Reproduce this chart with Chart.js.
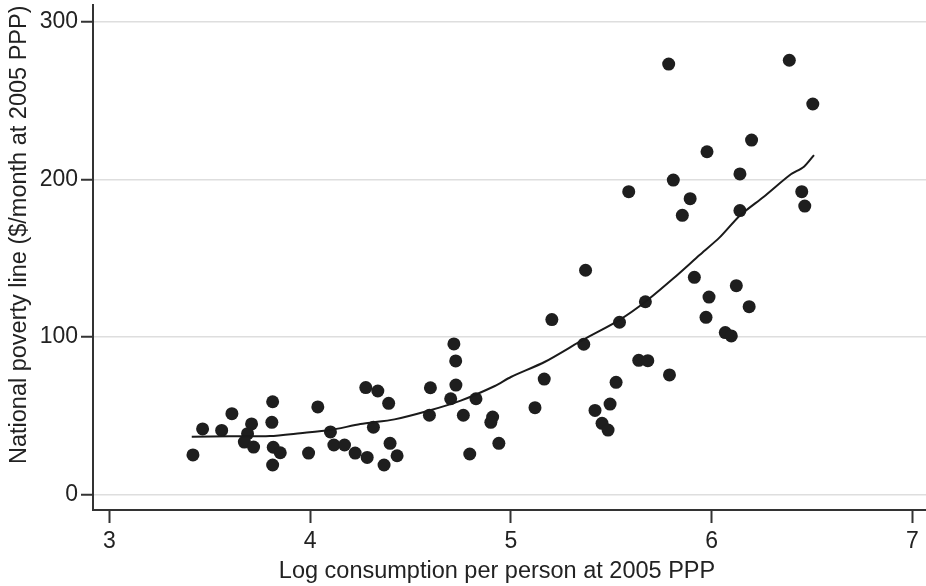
<!DOCTYPE html>
<html><head><meta charset="utf-8">
<script src="https://cdn.jsdelivr.net/npm/chart.js@4.4.0/dist/chart.umd.min.js"></script>
<style>html,body{margin:0;padding:0;background:#fff}#wrap{width:926px;height:586px}</style>
</head><body><div id="wrap"><canvas id="c" width="926" height="586"></canvas></div>
<script>
// Log consumption per person (x) and national poverty line (y) for each country
const consumptionX = [3.416,3.464,3.559,3.610,3.708,3.688,3.672,3.718,3.813,3.809,3.816,3.851,3.813,3.992,4.038,4.101,4.118,4.171,4.224,4.277,4.284,4.315,4.337,4.391,4.368,4.398,4.433,4.599,4.594,4.716,4.725,4.726,4.700,4.763,4.826,4.795,4.909,4.900,4.940,5.120,5.166,5.204,5.372,5.363,5.419,5.454,5.484,5.494,5.524,5.541,5.587,5.637,5.682,5.670,5.790,5.786,5.809,5.854,5.893,5.914,5.972,5.987,5.977,6.068,6.098,6.123,6.141,6.141,6.187,6.199,6.387,6.449,6.464,6.504];
const povertyLineY = [25.0,41.5,40.6,51.2,44.7,38.5,33.2,30.0,58.8,45.7,29.9,26.4,18.6,26.2,55.5,39.6,31.3,31.3,26.2,67.8,23.4,42.6,65.6,57.8,18.6,32.4,24.5,67.7,50.2,95.5,84.7,69.4,60.7,50.2,60.7,25.6,49.1,45.7,32.4,55.0,73.2,111.0,142.3,95.3,53.3,45.1,40.8,57.3,71.1,109.3,192.2,85.1,84.9,122.3,75.8,273.3,199.6,177.2,187.8,137.8,112.4,125.3,217.6,102.7,100.6,132.5,203.5,180.2,119.2,225.0,275.7,192.2,183.1,247.9];
// Lowess fit
const lowessX = [3.41,3.60,3.80,3.95,4.10,4.25,4.42,4.58,4.75,4.92,5.00,5.17,5.36,5.54,5.67,5.81,5.94,6.04,6.14,6.26,6.39,6.46,6.51];
const lowessY = [36.6,36.8,37.0,38.8,40.8,44.6,47.6,52.7,59.5,68.8,74.5,84.2,98.2,110.7,122.3,137.2,152.0,163.2,177.0,189.0,202.8,208.1,215.5];
const xTickValues = [3,4,5,6,7];
const yTickValues = [0,100,200,300];
const xTitle = "Log consumption per person at 2005 PPP";
const yTitle = "National poverty line ($/month at 2005 PPP)";

const FONT = "'Liberation Sans', Arial, Helvetica, sans-serif";
const DARK = '#222222';

const scatterData = consumptionX.map((x,i)=>({x:x, y:povertyLineY[i]}));
const lineData = lowessX.map((x,i)=>({x:x, y:lowessY[i]}));

const titlePlugin = {
  id:'axisTitles',
  afterDraw(chart){
    const ctx = chart.ctx;
    const area = chart.chartArea;
    ctx.save();
    ctx.fillStyle = DARK;
    ctx.textAlign = 'center';
    ctx.textBaseline = 'alphabetic';
    ctx.font = "23.5px " + FONT;
    ctx.fillText(xTitle, area.left + (area.right-area.left)*0.485, 578);
    ctx.translate(26, area.top + (area.bottom-area.top)*0.455);
    ctx.rotate(-Math.PI/2);
    ctx.font = "23.5px " + FONT;
    ctx.fillText(yTitle, 0, 0);
    ctx.restore();
  }
};

const bgPlugin = {
  id:'bg',
  beforeDraw(chart){
    const ctx = chart.ctx;
    ctx.save(); ctx.fillStyle='#fff'; ctx.fillRect(0,0,chart.width,chart.height); ctx.restore();
  }
};

function noPad(s){ s.paddingLeft=0; s.paddingRight=0; s.paddingTop=0; s.paddingBottom=0; }

new Chart(document.getElementById('c'), {
  type:'scatter',
  data:{
    datasets:[
      {label:'Countries', data:scatterData, backgroundColor:'#1e1e1e', borderWidth:0, pointRadius:6.5, pointHoverRadius:6.5, order:2},
      {label:'Lowess', data:lineData, showLine:true, borderColor:'#1a1a1a', borderWidth:2, pointRadius:0, tension:0.25, fill:false, order:1}
    ]
  },
  options:{
    responsive:false, animation:false, devicePixelRatio:1,
    layout:{autoPadding:false, padding:{top:5,left:0,right:0,bottom:0}},
    plugins:{legend:{display:false}, tooltip:{enabled:false}},
    scales:{
      x:{
        type:'linear', min:2.918, max:7.068,
        afterBuildTicks(s){ s.ticks = xTickValues.map(v=>({value:v})); },
        afterFit(s){ s.height = 76; noPad(s); },
        grid:{drawOnChartArea:false, drawTicks:true, tickLength:13, tickColor:'#333', tickWidth:2},
        border:{display:true, color:'#333', width:2},
        ticks:{font:{size:23, family:FONT}, color:DARK, padding:5, maxRotation:0, autoSkip:false}
      },
      y:{
        type:'linear', min:-9.97, max:310.8,
        afterBuildTicks(s){ s.ticks = yTickValues.map(v=>({value:v})); },
        afterFit(s){ s.width = 93; noPad(s); },
        grid:{color:'#dedede', lineWidth:1.5, drawTicks:true, tickLength:12, tickColor:'#333', tickWidth:2},
        border:{display:true, color:'#333', width:2},
        ticks:{font:{size:23, family:FONT}, color:DARK, padding:3}
      }
    }
  },
  plugins:[bgPlugin, titlePlugin]
});
</script></body></html>
